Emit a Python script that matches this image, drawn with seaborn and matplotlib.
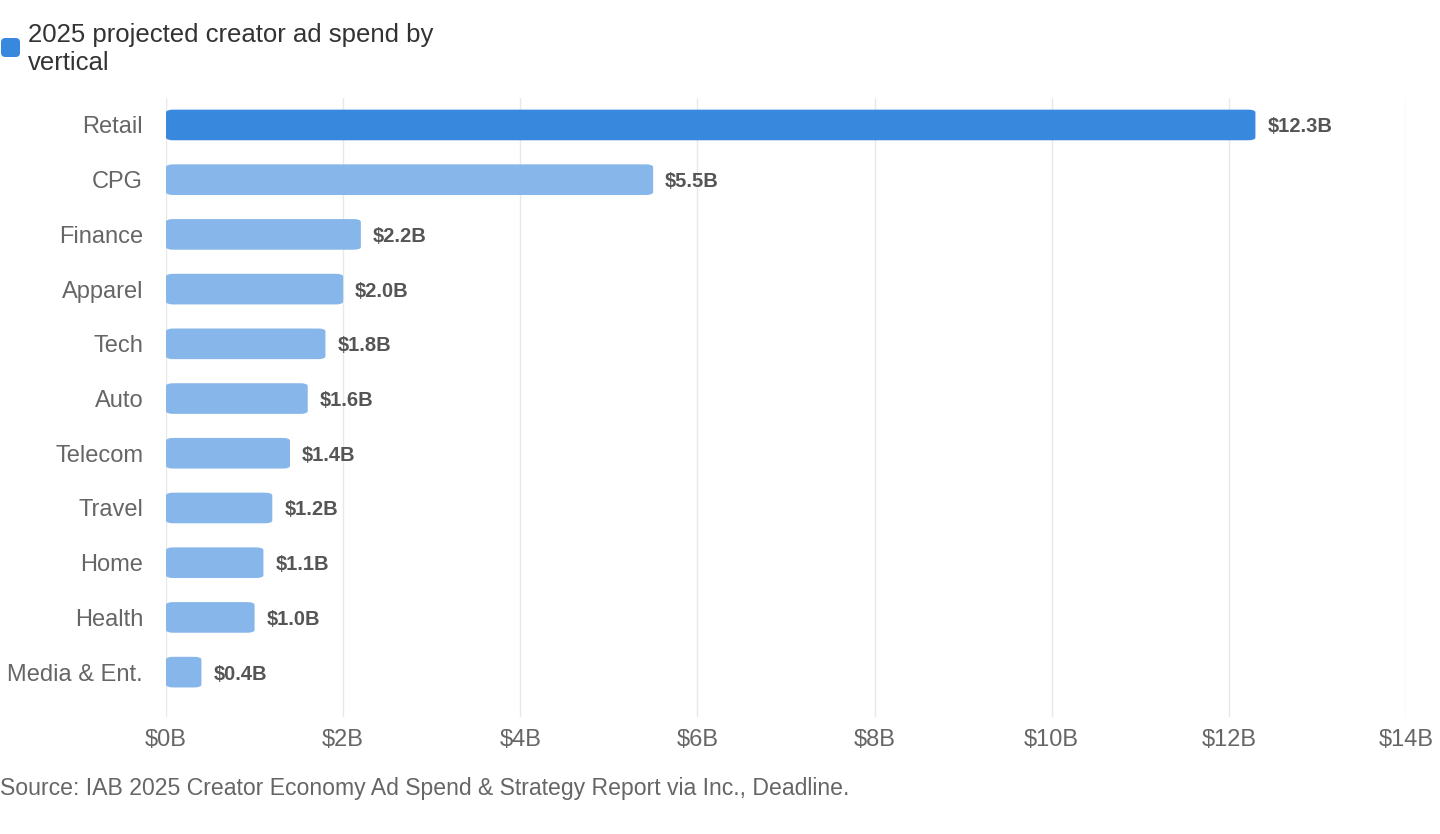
import matplotlib
matplotlib.use("Agg")
import matplotlib.pyplot as plt
from matplotlib.patches import FancyBboxPatch
import seaborn as sns

categories = ["Retail", "CPG", "Finance", "Apparel", "Tech", "Auto",
              "Telecom", "Travel", "Home", "Health", "Media & Ent."]
values = [12.3, 5.5, 2.2, 2.0, 1.8, 1.6, 1.4, 1.2, 1.1, 1.0, 0.4]
x_ticks = [0, 2, 4, 6, 8, 10, 12, 14]
legend_label = "2025 projected creator ad spend by\nvertical"
source = "Source: IAB 2025 Creator Economy Ad Spend & Strategy Report via Inc., Deadline."

dark_blue = "#3889DD"
light_blue = "#86B6EA"
colors = [dark_blue] + [light_blue] * (len(categories) - 1)

sns.set_theme(style="white")
plt.rcParams['font.family'] = ['Liberation Sans', 'DejaVu Sans']

W, H = 1440, 834
fig = plt.figure(figsize=(W / 100, H / 100), dpi=100)
ax = fig.add_axes([166 / W, 1 - 717 / H, (1406 - 166) / W, (717 - 97.6) / H])

sns.barplot(x=values, y=categories, hue=categories, palette=colors,
            legend=False, width=0.56, orient='h', ax=ax, saturation=1)

# swap plain bars for rounded ones
px_x = (1406 - 166) / 14.0
px_y = 54.7
r = 7.5 / px_x
for p in list(ax.patches):
    x0, y0 = p.get_x(), p.get_y()
    w, h = p.get_width(), p.get_height()
    fc = p.get_facecolor()
    p.remove()
    rb = FancyBboxPatch((x0, y0), w, h,
                        boxstyle=f"round,pad=0,rounding_size={min(r, w / 2)}",
                        mutation_aspect=px_y / px_x,
                        facecolor=fc, edgecolor='none', zorder=2)
    ax.add_patch(rb)

for i, v in enumerate(values):
    ax.text(v + 12 / px_x, i, f"${v:.1f}B", va='center_baseline', ha='left',
            fontsize=14.5, fontweight='bold', color='#555555')

ax.set_xlim(0, 14)
ax.set_ylim(10.82, -0.5)
ax.set_xticks(x_ticks)
ax.set_xticklabels([f"${t}B" for t in x_ticks])
ax.grid(axis='x', color='#e8e8e8', linewidth=1)
ax.set_axisbelow(True)
for s in ax.spines.values():
    s.set_visible(False)
ax.tick_params(axis='y', length=0, pad=16.5, labelsize=17, labelcolor='#666666')
ax.tick_params(axis='x', length=0, pad=9, labelsize=17, labelcolor='#666666')
ax.set_xlabel("")
ax.set_ylabel("")

# legend swatch and label
sq = FancyBboxPatch((1 / W, 1 - 57 / H), 19 / W, 19 / H,
                    boxstyle="round,pad=0,rounding_size=0.003",
                    mutation_aspect=W / H,
                    transform=fig.transFigure, facecolor=dark_blue,
                    edgecolor='none')
fig.patches.append(sq)
fig.text(28 / W, 1 - 49 / H, legend_label, ha='left', va='center',
         fontsize=18.5, color='#333333', linespacing=1.22)

fig.text(0, 1 - 788 / H, source, ha='left', va='center',
         fontsize=16.6, color='#666666')

fig.savefig("out.png", dpi=100)
